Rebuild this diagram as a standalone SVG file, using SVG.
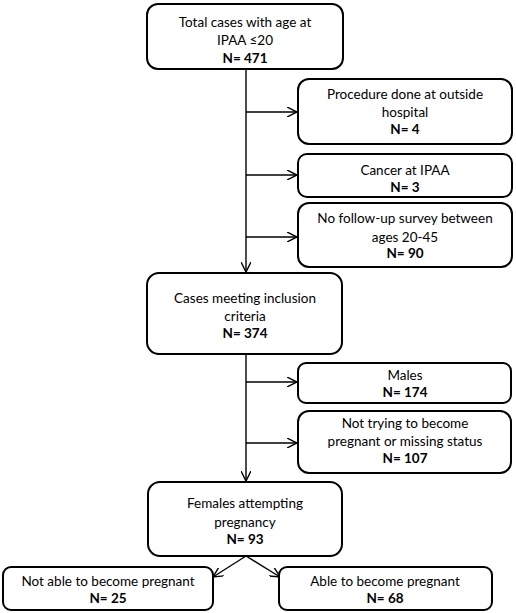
<svg xmlns="http://www.w3.org/2000/svg" width="516" height="613" viewBox="0 0 516 613">
<style>
.box{fill:#fff;stroke:#000;stroke-width:2}
.t{font-family:Lato,"Liberation Sans",sans-serif;font-size:13.5px;text-anchor:middle;fill:#000}
.b{font-weight:bold}
.c{fill:none;stroke:#000;stroke-width:1.4}
</style>
<defs>
<marker id="ah" viewBox="0 0 10 10" refX="10" refY="5" markerWidth="10" markerHeight="10" markerUnits="userSpaceOnUse" orient="auto">
<path d="M0,0 L10,5 L0,10" fill="none" stroke="#000" stroke-width="1.4"/>
</marker>
</defs>
<g id="connectors">
<line class="c" x1="246" y1="69" x2="246" y2="272" marker-end="url(#ah)"/>
<line class="c" x1="246" y1="112" x2="297" y2="112" marker-end="url(#ah)"/>
<line class="c" x1="246" y1="175" x2="297" y2="175" marker-end="url(#ah)"/>
<line class="c" x1="246" y1="237" x2="297" y2="237" marker-end="url(#ah)"/>
<line class="c" x1="246" y1="354" x2="246" y2="481" marker-end="url(#ah)"/>
<line class="c" x1="246" y1="382" x2="297" y2="382" marker-end="url(#ah)"/>
<line class="c" x1="246" y1="443" x2="297" y2="443" marker-end="url(#ah)"/>
<line class="c" x1="246" y1="556" x2="213" y2="577" marker-end="url(#ah)"/>
<line class="c" x1="246" y1="556" x2="280" y2="577" marker-end="url(#ah)"/>
</g>
<g id="n1">
<rect class="box" x="147" y="4" width="196" height="65" rx="11"/>
<text class="t" x="245" y="27">Total cases with age at</text>
<text class="t" x="245" y="45">IPAA ≤20</text>
<text class="t b" x="245" y="63">N= 471</text>
</g>
<g id="n2">
<rect class="box" x="298" y="79" width="214" height="65" rx="11"/>
<text class="t" x="405" y="99">Procedure done at outside</text>
<text class="t" x="405" y="117">hospital</text>
<text class="t b" x="405" y="134">N= 4</text>
</g>
<g id="n3">
<rect class="box" x="298" y="154" width="214" height="43" rx="9"/>
<text class="t" x="405" y="175">Cancer at IPAA</text>
<text class="t b" x="405" y="192">N= 3</text>
</g>
<g id="n4">
<rect class="box" x="298" y="203" width="214" height="64" rx="11"/>
<text class="t" x="405" y="223">No follow-up survey between</text>
<text class="t" x="405" y="242">ages 20-45</text>
<text class="t b" x="405" y="258">N= 90</text>
</g>
<g id="n5">
<rect class="box" x="147" y="273" width="195" height="81" rx="12"/>
<text class="t" x="245" y="303">Cases meeting inclusion</text>
<text class="t" x="245" y="321">criteria</text>
<text class="t b" x="245" y="338">N= 374</text>
</g>
<g id="n6">
<rect class="box" x="298" y="363" width="213" height="40" rx="8"/>
<text class="t" x="405" y="380">Males</text>
<text class="t b" x="405" y="397">N= 174</text>
</g>
<g id="n7">
<rect class="box" x="298" y="411" width="213" height="62" rx="11"/>
<text class="t" x="405" y="428">Not trying to become</text>
<text class="t" x="405" y="446">pregnant or missing status</text>
<text class="t b" x="405" y="463">N= 107</text>
</g>
<g id="n8">
<rect class="box" x="148" y="482" width="194" height="74" rx="12"/>
<text class="t" x="245" y="508">Females attempting</text>
<text class="t" x="245" y="527">pregnancy</text>
<text class="t b" x="245" y="544">N= 93</text>
</g>
<g id="n9">
<rect class="box" x="3" y="567" width="210" height="43" rx="8"/>
<text class="t" x="108" y="586">Not able to become pregnant</text>
<text class="t b" x="108" y="603">N= 25</text>
</g>
<g id="n10">
<rect class="box" x="279" y="567" width="213" height="43" rx="8"/>
<text class="t" x="385" y="586">Able to become pregnant</text>
<text class="t b" x="385" y="603">N= 68</text>
</g>
</svg>
